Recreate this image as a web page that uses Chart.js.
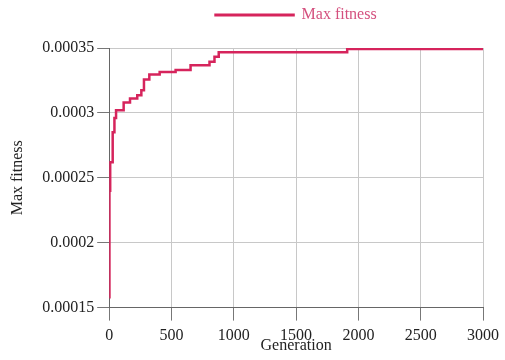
<!DOCTYPE html>
<html>
<head>
<meta charset="utf-8">
<script src="https://cdn.jsdelivr.net/npm/chart.js@4"></script>
<style>
  html, body { margin: 0; padding: 0; background: #fff; }
  #wrap { width: 505px; height: 360px; }
  #warm { font-family: 'Liberation Serif'; position: absolute; left: -999px; }
</style>
</head>
<body>
<span id="warm">0123 Max fitness</span>
<div id="wrap"><canvas id="chart"></canvas></div>
<script>
// generation at which the best fitness changed, and the new best value
const generations = [0, 2, 8, 28, 42, 55, 116, 167, 225, 258, 279, 322, 405, 533, 653, 805, 845, 879, 1910, 3000];
const maxFitness = [0.000158, 0.000240, 0.000262, 0.000285, 0.000296, 0.000302, 0.000308, 0.000311,
  0.0003136, 0.0003175, 0.0003258, 0.0003296, 0.0003316, 0.000333, 0.0003368, 0.0003394,
  0.0003433, 0.0003467, 0.0003492, 0.0003492];

const xTicks = [0, 500, 1000, 1500, 2000, 2500, 3000];
const xTickLabels = ['0', '500', '1000', '1500', '2000', '2500', '3000'];
const yTicks = [0.00015, 0.0002, 0.00025, 0.0003, 0.00035];
const yTickLabels = ['0.00015', '0.0002', '0.00025', '0.0003', '0.00035'];

const lineColor = '#d6245c';
const gridColor = '#c8c8c8';
const tickColor = '#777';

Chart.defaults.font.family = 'Liberation Serif, Times New Roman, Times, serif';
Chart.defaults.font.size = 16;
Chart.defaults.color = '#222';

const points = generations.map((g, i) => ({ x: g, y: maxFitness[i] }));

// push the plot down a bit under the legend
const legendGap = {
  id: 'legendGap',
  beforeInit(chart) {
    const fit = chart.legend.fit;
    chart.legend.fit = function () {
      fit.bind(chart.legend)();
      this.height += 15;
    };
  }
};

function draw() {
  new Chart(document.getElementById('chart'), {
    type: 'line',
    data: {
      datasets: [{
        label: 'Max fitness',
        data: points,
        borderColor: lineColor,
        backgroundColor: lineColor,
        borderWidth: 2.5,
        pointRadius: 0,
        stepped: 'before',
        fill: false
      }]
    },
    options: {
      responsive: true,
      maintainAspectRatio: false,
      animation: false,
      layout: { padding: { left: 0, right: 17, top: 0, bottom: 0 } },
      plugins: {
        legend: {
          fullSize: false,
          labels: {
            boxWidth: 78,
            boxHeight: 0.5,
            padding: 7,
            color: '#d4507e'
          }
        },
        tooltip: { enabled: false }
      },
      scales: {
        x: {
          type: 'linear',
          min: 0,
          max: 3000,
          afterBuildTicks: axis => { axis.ticks = xTicks.map(v => ({ value: v })); },
          ticks: {
            maxRotation: 0,
            padding: 6,
            callback: (v, i) => xTickLabels[i]
          },
          grid: { color: gridColor, tickColor: tickColor, tickLength: 13 },
          border: { color: '#666' },
          title: {
            display: true,
            text: 'Generation',
            padding: { top: -16, bottom: 5 }
          }
        },
        y: {
          min: 0.00015,
          max: 0.00035,
          afterBuildTicks: axis => { axis.ticks = yTicks.map(v => ({ value: v })); },
          ticks: {
            padding: 3,
            callback: (v, i) => yTickLabels[i]
          },
          grid: { color: gridColor, tickColor: tickColor, tickLength: 12 },
          border: { color: '#666' },
          title: {
            display: true,
            text: 'Max fitness',
            padding: { top: 8, bottom: 12 }
          }
        }
      }
    },
    plugins: [legendGap]
  });
}

if (document.fonts && document.fonts.load) {
  document.fonts.load('16px "Liberation Serif"').then(draw, draw);
} else {
  draw();
}
</script>
</body>
</html>
